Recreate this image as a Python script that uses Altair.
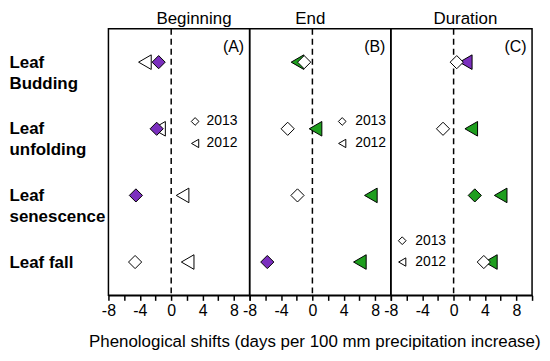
import json
import altair as alt
import pandas as pd

# ---------------- data ----------------
phase_labels = ["Leaf|Budding", "Leaf|unfolding", "Leaf|senescence", "Leaf fall"]
panel_titles = ["Beginning", "End", "Duration"]
panel_letters = ["(A)", "(B)", "(C)"]
years = ["2013", "2012"]

# Beginning
beg_2013 = [-1.6, -1.85, -4.5, -4.6]
beg_2013_fill = ["purple", "purple", "purple", "open"]
beg_2012 = [-3.35, -1.55, 1.45, 2.1]
beg_2012_fill = ["open", "open", "open", "open"]

# End
end_2013 = [-1.05, -3.15, -1.9, -5.75]
end_2013_fill = ["open", "open", "open", "purple"]
end_2012 = [-1.9, 0.4, 7.45, 6.05]
end_2012_fill = ["green", "green", "green", "green"]

# Duration
dur_2013 = [0.4, -1.35, 2.7, 3.85]
dur_2013_fill = ["open", "open", "green", "open"]
dur_2012 = [1.55, 2.25, 6.0, 4.75]
dur_2012_fill = ["purple", "green", "green", "green"]

# in-panel legend anchors (data units)
legend_marker_x = [3.05, 3.8, -6.55]
legend_text_x = [4.5, 5.45, -4.9]
legend_y = [[0.89, 1.22], [0.89, 1.22], [2.68, 3.0]]
letter_x = 9.3
letter_y = -0.23

fill_domain = ["purple", "green", "open"]
fill_range = ["#7B2FBE", "#1E9E1E", "white"]

XTITLE = "Phenological shifts (days per 100 mm precipitation increase)"
title_dx = [15, -10, 4]

x_scale = alt.Scale(domain=[-8, 10], nice=False, zero=False)
y_scale = alt.Scale(domain=[-0.5, 3.5], reverse=True, nice=False, zero=False)
shape_scale = alt.Scale(domain=years, range=["diamond", "triangle-left"])
size_scale = alt.Scale(domain=years, range=[175, 215])
leg_size_scale = alt.Scale(domain=years, range=[60, 70])
fill_scale = alt.Scale(domain=fill_domain, range=fill_range)

W, H = 142, 268


def make_panel(i, v13, f13, v12, f12):
    rows = []
    for k, (v, f) in enumerate(zip(v12, f12)):
        rows.append({"x": v, "y": k, "year": "2012", "fill": f})
    for k, (v, f) in enumerate(zip(v13, f13)):
        rows.append({"x": v, "y": k, "year": "2013", "fill": f})
    df = pd.DataFrame(rows)

    x_axis = alt.Axis(
        values=list(range(-8, 11, 2)),
        labelExpr="(datum.value % 4 === 0 && datum.value <= 8) ? ('' + datum.value) : ''",
        grid=False, tickSize=5, tickColor="black", tickWidth=1.5,
        domainColor="black", domainWidth=1.5, labelFontSize=16,
        labelColor="black", labelFlush=False, labelPadding=2,
        title=XTITLE if i == 1 else None,
        titleFontSize=17, titleFontWeight="normal", titleColor="black",
        titlePadding=15, titleX=65,
    )
    if i == 0:
        y_axis = alt.Axis(
            values=[0, 1, 2, 3],
            labelExpr="split(" + json.dumps(phase_labels).replace('"', "'") + "[datum.value], '|')",
            grid=False, ticks=False, domain=False, tickSize=0,
            labelAlign="left", labelBaseline="middle", labelPadding=100,
            labelFontSize=17, labelFontWeight="bold", labelColor="black",
            labelLineHeight=21, labelLimit=200, title=None,
        )
    else:
        y_axis = None

    base_x = alt.X("x:Q", scale=x_scale, axis=x_axis)
    base_y = alt.Y("y:Q", scale=y_scale, axis=y_axis)

    rule = alt.Chart(pd.DataFrame({"x": [0]})).mark_rule(
        color="black", strokeWidth=1.5, strokeDash=[6, 4]
    ).encode(x=alt.X("x:Q", scale=x_scale, axis=x_axis))

    pts = alt.Chart(df).mark_point(
        filled=True, stroke="black", strokeWidth=1, opacity=1
    ).encode(
        x=base_x, y=base_y,
        shape=alt.Shape("year:N", scale=shape_scale, legend=None),
        size=alt.Size("year:N", scale=size_scale, legend=None),
        fill=alt.Fill("fill:N", scale=fill_scale, legend=None),
    )

    leg = pd.DataFrame({
        "x": [legend_marker_x[i]] * 2,
        "tx": [legend_text_x[i]] * 2,
        "y": legend_y[i],
        "year": years,
    })
    leg_pts = alt.Chart(leg).mark_point(
        filled=True, fill="white", stroke="black", strokeWidth=1, opacity=1
    ).encode(
        x=alt.X("x:Q", scale=x_scale, axis=x_axis),
        y=alt.Y("y:Q", scale=y_scale, axis=y_axis),
        shape=alt.Shape("year:N", scale=shape_scale, legend=None),
        size=alt.Size("year:N", scale=leg_size_scale, legend=None),
    )
    leg_txt = alt.Chart(leg).mark_text(
        align="left", baseline="middle", fontSize=14, color="black"
    ).encode(
        x=alt.X("tx:Q", scale=x_scale, axis=x_axis),
        y=alt.Y("y:Q", scale=y_scale, axis=y_axis),
        text="year:N",
    )
    letter = alt.Chart(pd.DataFrame({"x": [letter_x], "y": [letter_y], "t": [panel_letters[i]]})).mark_text(
        align="right", baseline="middle", fontSize=16, color="black"
    ).encode(
        x=alt.X("x:Q", scale=x_scale, axis=x_axis),
        y=alt.Y("y:Q", scale=y_scale, axis=y_axis),
        text="t:N",
    )

    return alt.layer(rule, pts, leg_pts, leg_txt, letter).resolve_scale(size="independent").properties(
        width=W, height=H,
        title=alt.TitleParams(panel_titles[i], fontSize=17, fontWeight="normal",
                              color="black", anchor="middle", dx=title_dx[i], offset=0),
    )


pA = make_panel(0, beg_2013, beg_2013_fill, beg_2012, beg_2012_fill)
pB = make_panel(1, end_2013, end_2013_fill, end_2012, end_2012_fill)
pC = make_panel(2, dur_2013, dur_2013_fill, dur_2012, dur_2012_fill)

chart = alt.hconcat(pA, pB, pC, spacing=0, bounds="flush").properties(
    padding={"left": 0, "top": 0, "right": 0, "bottom": 0}
).configure(font="Liberation Sans").configure_view(stroke="black", strokeWidth=1.5)

chart.save("out.html", embed_options={"renderer": "svg", "actions": False})
